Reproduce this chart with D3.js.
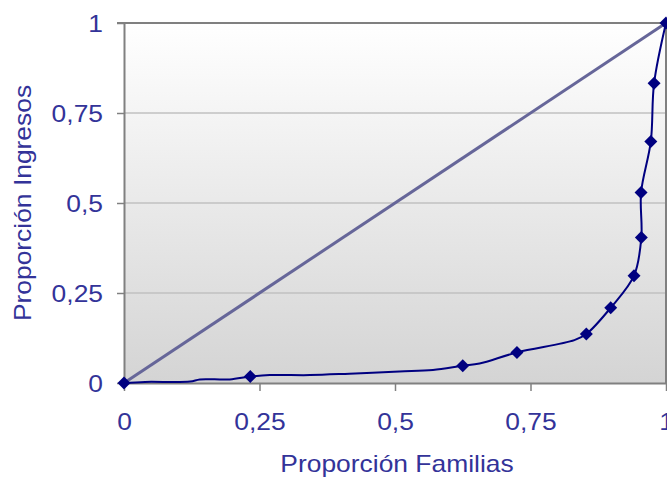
<!DOCTYPE html>
<html><head><meta charset="utf-8">
<script src="https://cdn.jsdelivr.net/npm/d3@7"></script>
<style>html,body{margin:0;padding:0;background:#fff;}svg{display:block;}</style>
</head><body>
<svg id="chart" width="667" height="479"></svg>
<script>
// Data
const xTicks = [0, 0.25, 0.5, 0.75, 1];
const yTicks = [0, 0.25, 0.5, 0.75, 1];
const tickLabels = ["0", "0,25", "0,5", "0,75", "1"];
// Lorenz curve: marked points
const markerX = [0, 0.233, 0.625, 0.725, 0.853, 0.898, 0.941, 0.9545, 0.954, 0.972, 0.978, 1];
const markerY = [0, 0.018, 0.048, 0.085, 0.136, 0.209, 0.298, 0.404, 0.529, 0.671, 0.8325, 1];
// Lorenz curve: full traced line
const curveX = [0, 0.039, 0.122, 0.14, 0.195, 0.233, 0.269, 0.343, 0.416, 0.508, 0.57, 0.625, 0.656, 0.725, 0.831, 0.853, 0.898, 0.941, 0.9545, 0.954, 0.972, 0.978, 1];
const curveY = [0, 0.003, 0.004, 0.01, 0.01, 0.018, 0.022, 0.022, 0.026, 0.032, 0.036, 0.048, 0.054, 0.085, 0.119, 0.136, 0.209, 0.298, 0.404, 0.529, 0.671, 0.8325, 1];
// Equality line
const equalX = [0, 1];
const equalY = [0, 1];

const svg = d3.select("#chart");
const L = 124, R = 666, T = 23, B = 383;
const x = d3.scaleLinear().domain([0, 1]).range([L, R]);
const y = d3.scaleLinear().domain([0, 1]).range([B, T]);
const textColor = "#333399";
const font = "'Liberation Sans', Arial, sans-serif";
const fsize = "24px";
const stretch = 1.1;
function widen(sel) {
  sel.each(function () {
    const len = this.getComputedTextLength();
    d3.select(this).attr("textLength", len * stretch).attr("lengthAdjust", "spacingAndGlyphs");
  });
}

const defs = svg.append("defs");
const grad = defs.append("linearGradient").attr("id", "bg").attr("x1", 0).attr("y1", 0).attr("x2", 0).attr("y2", 1);
grad.append("stop").attr("offset", "0%").attr("stop-color", "#ffffff");
grad.append("stop").attr("offset", "100%").attr("stop-color", "#d4d4d4");

svg.append("rect").attr("x", L).attr("y", T).attr("width", R - L).attr("height", B - T).attr("fill", "url(#bg)");

// gridlines
svg.append("g").selectAll("line").data(yTicks.slice(1, 4)).join("line")
  .attr("x1", L).attr("x2", R).attr("y1", d => y(d)).attr("y2", d => y(d))
  .attr("stroke", "#c0c0c0").attr("stroke-width", 1.5);

// border top and right
svg.append("line").attr("x1", L - 7).attr("x2", R + 1).attr("y1", T).attr("y2", T).attr("stroke", "#808080").attr("stroke-width", 2);
svg.append("line").attr("x1", R).attr("x2", R).attr("y1", T).attr("y2", B).attr("stroke", "#808080").attr("stroke-width", 2);

// axes
const fmt = d => tickLabels[xTicks.indexOf(d)];
const xAxis = svg.append("g").attr("transform", `translate(0,${B})`)
  .call(d3.axisBottom(x).tickValues(xTicks).tickFormat(fmt).tickSize(8).tickSizeOuter(0));
const yAxis = svg.append("g").attr("transform", `translate(${L},0)`)
  .call(d3.axisLeft(y).tickValues(yTicks).tickFormat(fmt).tickSize(7).tickSizeOuter(0).tickPadding(14));
[xAxis, yAxis].forEach(g => {
  g.select(".domain").attr("stroke", "#808080").attr("stroke-width", 2);
  g.selectAll(".tick line").attr("stroke", "#808080").attr("stroke-width", 1.5);
  g.selectAll(".tick text").attr("fill", textColor).style("font-family", font).style("font-size", fsize);
});
xAxis.selectAll(".tick text").attr("y", 47).attr("dy", null);
yAxis.selectAll(".tick text").attr("dy", "0.36em");
widen(xAxis.selectAll(".tick text"));
widen(yAxis.selectAll(".tick text"));

// equality line
svg.append("path").datum(equalX.map((d, i) => [d, equalY[i]]))
  .attr("d", d3.line().x(d => x(d[0])).y(d => y(d[1])))
  .attr("fill", "none").attr("stroke", "#666699").attr("stroke-width", 3);

// Lorenz curve
svg.append("path").datum(curveX.map((d, i) => [d, curveY[i]]))
  .attr("d", d3.line().x(d => x(d[0])).y(d => y(d[1])).curve(d3.curveCatmullRom.alpha(0.5)))
  .attr("fill", "none").attr("stroke", "#000080").attr("stroke-width", 2);

svg.append("g").selectAll("path").data(markerX.map((d, i) => [d, markerY[i]])).join("path")
  .attr("d", d3.symbol(d3.symbolSquare, 84))
  .attr("transform", d => `translate(${x(d[0])},${y(d[1])}) rotate(45)`)
  .attr("fill", "#000080");

// titles
const xt = svg.append("text").attr("x", (L + R) / 2 + 2).attr("y", 472).attr("text-anchor", "middle")
  .attr("fill", textColor).style("font-family", font).style("font-size", fsize).text("Proporción Familias");
const yt = svg.append("text").attr("transform", `translate(31,${(T + B) / 2}) rotate(-90)`).attr("text-anchor", "middle")
  .attr("fill", textColor).style("font-family", font).style("font-size", fsize).text("Proporción Ingresos");
widen(xt); widen(yt);
</script>
</body></html>
